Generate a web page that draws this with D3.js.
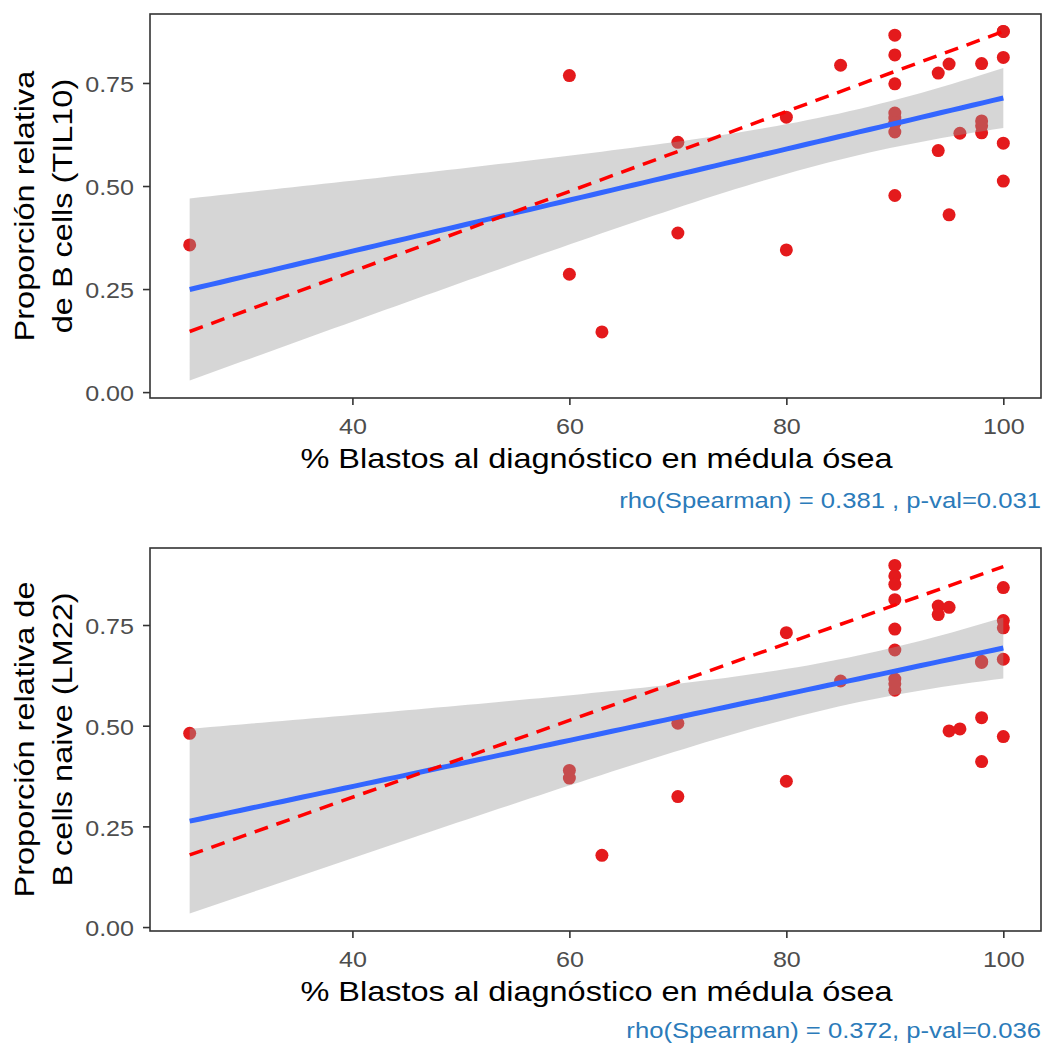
<!DOCTYPE html>
<html>
<head>
<meta charset="utf-8">
<script src="https://cdn.jsdelivr.net/npm/d3@7"></script>
<style>
  html, body { margin: 0; padding: 0; background: #fff; }
  svg { display: block; }
</style>
</head>
<body>
<div id="chart"></div>
<script>
// % blastos at diagnosis (same patients in both panels)
var blastos = [25, 60, 60, 63, 70, 70, 80, 80, 85,
  90, 90, 90, 90, 90, 90, 90, 90, 90,
  94, 94, 95, 95, 96, 98, 98, 98, 98,
  100, 100, 100, 100, 100];

// relative proportion, B cells (TIL10)
var bcellsTil10 = [0.357, 0.768, 0.286, 0.146, 0.606, 0.386, 0.667, 0.345, 0.793,
  0.866, 0.818, 0.748, 0.677, 0.665, 0.653, 0.653, 0.631, 0.477,
  0.774, 0.586, 0.796, 0.430, 0.628, 0.797, 0.658, 0.646, 0.629,
  0.875, 0.875, 0.812, 0.604, 0.512];

// relative proportion, B cells naive (LM22)
var bcellsNaiveLm22 = [0.481, 0.389, 0.370, 0.178, 0.506, 0.324, 0.731, 0.362, 0.611,
  0.898, 0.872, 0.851, 0.813, 0.740, 0.688, 0.616, 0.604, 0.588,
  0.797, 0.776, 0.794, 0.487, 0.492, 0.657, 0.660, 0.520, 0.411,
  0.843, 0.761, 0.743, 0.665, 0.473];

// dashed reference line, value at x = 25 and x = 100
var dashedX = [25, 100];
var dashedTil10 = [0.147, 0.875];
var dashedLm22 = [0.179, 0.895];

var xTicks = [40, 60, 80, 100];
var yTicks = [0, 0.25, 0.5, 0.75];
var xTitle = "% Blastos al diagnóstico en médula ósea";
var yTitleTil10 = ["Proporción relativa", "de B cells (TIL10)"];
var yTitleLm22 = ["Proporción relativa de", "B cells naive (LM22)"];
var captionTil10 = "rho(Spearman) = 0.381 , p-val=0.031";
var captionLm22 = "rho(Spearman) = 0.372, p-val=0.036";

var W = 1043, H = 1045;
var SX = 1.14; // horizontal stretch of the text
var FONT = "'Liberation Sans', Arial, sans-serif";
var left = 150, right = 1041;

var panels = [
  {top: 14, bottom: 398, ys: bcellsTil10, dashed: dashedTil10, title: yTitleTil10, caption: captionTil10},
  {top: 548, bottom: 931, ys: bcellsNaiveLm22, dashed: dashedLm22, title: yTitleLm22, caption: captionLm22}
];

var svg = d3.select("#chart").append("svg")
  .attr("width", W).attr("height", H)
  .attr("font-family", FONT);

var tCrit = function(df) {
  var z = 1.959964;
  return z + (Math.pow(z, 3) + z) / (4 * df) +
    (5 * Math.pow(z, 5) + 16 * Math.pow(z, 3) + 3 * z) / (96 * df * df);
};

var lmFit = function(xs, ys) {
  var n = xs.length, xbar = d3.mean(xs), ybar = d3.mean(ys);
  var sxx = d3.sum(xs, function(x) { return (x - xbar) * (x - xbar); });
  var sxy = d3.sum(xs, function(x, i) { return (x - xbar) * (ys[i] - ybar); });
  var b = sxy / sxx, a = ybar - b * xbar;
  var rss = d3.sum(xs, function(x, i) { var r = ys[i] - (a + b * x); return r * r; });
  var s = Math.sqrt(rss / (n - 2));
  var t = tCrit(n - 2);
  var xr = d3.extent(xs);
  return d3.range(80).map(function(i) {
    var x = xr[0] + (xr[1] - xr[0]) * i / 79;
    var fit = a + b * x;
    var se = s * Math.sqrt(1 / n + (x - xbar) * (x - xbar) / sxx);
    return {x: x, fit: fit, lo: fit - t * se, hi: fit + t * se};
  });
};

var label = function(sel, x, y, txt, size, opts) {
  opts = opts || {};
  return sel.append("text")
    .attr("transform", "translate(" + x + "," + y + ")" + (opts.rotate ? " rotate(" + opts.rotate + ")" : "") + " scale(" + SX + ",1)")
    .attr("text-anchor", opts.anchor || "middle")
    .attr("font-size", size)
    .attr("fill", opts.fill || "#000")
    .text(txt);
};

panels.forEach(function(p) {
  var data = blastos.map(function(x, i) { return [x, p.ys[i]]; });
  var smooth = lmFit(blastos, p.ys);

  var xr = d3.extent(blastos), xpad = (xr[1] - xr[0]) * 0.05;
  var yAll = p.ys.concat(p.dashed, smooth.map(function(d) { return d.lo; }), smooth.map(function(d) { return d.hi; }));
  var yr = d3.extent(yAll), ypad = (yr[1] - yr[0]) * 0.05;

  var x = d3.scaleLinear().domain([xr[0] - xpad, xr[1] + xpad]).range([left - 1, right + 3]);
  var y = d3.scaleLinear().domain([yr[0] - ypad, yr[1] + ypad]).range([p.bottom, p.top]);

  var g = svg.append("g");

  // points
  g.append("g").selectAll("circle").data(data).enter().append("circle")
    .attr("cx", function(d) { return x(d[0]); })
    .attr("cy", function(d) { return y(d[1]); })
    .attr("r", 6.5)
    .attr("fill", "#e41a1c");

  // confidence band
  var area = d3.area()
    .x(function(d) { return x(d.x); })
    .y0(function(d) { return y(d.lo); })
    .y1(function(d) { return y(d.hi); });
  g.append("path").datum(smooth).attr("d", area)
    .attr("fill", "#999999").attr("fill-opacity", 0.4);

  // linear fit
  var line = d3.line().x(function(d) { return x(d.x); }).y(function(d) { return y(d.fit); });
  g.append("path").datum(smooth).attr("d", line)
    .attr("fill", "none").attr("stroke", "#3366ff").attr("stroke-width", 5);

  // dashed line
  var dl = d3.line().x(function(d) { return x(d[0]); }).y(function(d) { return y(d[1]); });
  g.append("path").datum(dashedX.map(function(v, i) { return [v, p.dashed[i]]; })).attr("d", dl)
    .attr("fill", "none").attr("stroke", "#ff0000").attr("stroke-width", 3.5)
    .attr("stroke-dasharray", "14,9");

  // axes
  var xAxis = d3.axisBottom(x).tickValues(xTicks).tickSize(7).tickPadding(13.5);
  g.append("g").attr("transform", "translate(0," + p.bottom + ")").call(xAxis)
    .call(function(a) { a.select(".domain").remove(); })
    .call(function(a) { a.selectAll("line").attr("stroke", "#333").attr("stroke-width", 1.6); })
    .call(function(a) {
      a.selectAll("text").attr("font-size", 22).attr("font-family", FONT).attr("fill", "#4d4d4d")
        .attr("transform", "scale(" + SX + ",1)");
    });

  var yAxis = d3.axisLeft(y).tickValues(yTicks).tickSize(7).tickFormat(d3.format(".2f"));
  g.append("g").attr("transform", "translate(" + left + ",0)").call(yAxis)
    .call(function(a) { a.select(".domain").remove(); })
    .call(function(a) { a.selectAll("line").attr("stroke", "#333").attr("stroke-width", 1.6); })
    .call(function(a) {
      a.selectAll("text").attr("font-size", 22).attr("font-family", FONT).attr("fill", "#4d4d4d")
        .attr("x", -16 / SX).attr("dy", "0.4em")
        .attr("transform", "scale(" + SX + ",1)");
    });

  // panel border
  g.append("rect")
    .attr("x", left).attr("y", p.top)
    .attr("width", right - left).attr("height", p.bottom - p.top)
    .attr("fill", "none").attr("stroke", "#333").attr("stroke-width", 1.6);

  // titles
  var midY = (p.top + p.bottom) / 2;
  label(g, (left + right) / 2 + 1, p.bottom + 69.5, xTitle, 28.5);
  label(g, 34, midY, p.title[0], 28.5, {rotate: -90});
  label(g, 72, midY, p.title[1], 28.5, {rotate: -90});
  label(g, 1041, Math.min(p.bottom + 110, H - 7), p.caption, 22.5, {anchor: "end", fill: "#2b7bba"});
});
</script>
</body>
</html>
